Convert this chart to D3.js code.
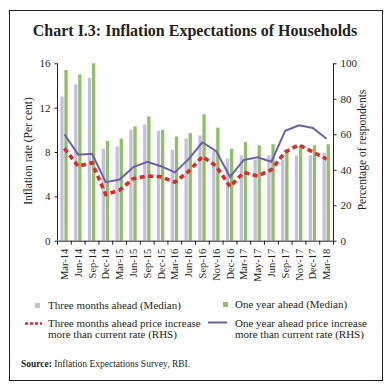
<!DOCTYPE html>
<html>
<head>
<meta charset="utf-8">
<script src="https://cdn.jsdelivr.net/npm/d3@7"></script>
<style>
  body { margin: 0; background: #fff; }
  svg { display: block; font-family: "Liberation Serif", serif; }
</style>
</head>
<body>
<svg id="chart" width="391" height="390"></svg>
<script>
// quarters on the x axis
var periods = ["Mar-14", "Jun-14", "Sep-14", "Dec-14", "Mar-15", "Jun-15", "Sep-15", "Dec-15",
  "Mar-16", "Jun-16", "Sep-16", "Nov-16", "Dec-16", "Mar-17", "May-17", "Jun-17",
  "Sep-17", "Nov-17", "Dec-17", "Mar-18"];

// median expectations, per cent (LHS)
var threeMonthMedian = [13.0, 14.1, 14.7, 8.3, 8.5, 10.0, 10.5, 9.9, 8.2, 9.2, 9.5, 8.1, 7.4, 7.7, 7.3, 7.7, 7.3, 7.7, 7.7, 7.9];
var oneYearMedian = [15.4, 15.0, 16.0, 9.0, 9.2, 10.3, 11.2, 10.0, 9.4, 9.7, 11.4, 10.2, 8.3, 8.9, 8.6, 8.7, 8.2, 8.6, 8.6, 8.7];

// share of respondents expecting higher prices, per cent (RHS)
var threeMonthHigher = [52, 42, 44, 26, 28.5, 35, 36.5, 36, 33, 39, 47.5, 42, 30.5, 38.5, 36.5, 40, 50, 54, 50, 46];
var oneYearHigher = [60, 48.5, 49, 33, 34.5, 41.5, 44.5, 42, 38.5, 46, 55.5, 50.5, 36, 45.5, 47, 44.5, 62, 65, 63.5, 57.5];

var leftTicks = [0, 4, 8, 12, 16];
var rightTicks = [0, 20, 40, 60, 80, 100];

var svg = d3.select("#chart");
var ink = "#231f20";

// frame
svg.append("rect").attr("x", 9.5).attr("y", 10.5).attr("width", 373).attr("height", 370)
  .attr("fill", "none").attr("stroke", ink).attr("stroke-width", 1);

svg.append("text").attr("x", 195).attr("y", 36).attr("text-anchor", "middle")
  .attr("font-size", 16).attr("font-weight", "bold").attr("fill", ink)
  .text("Chart I.3: Inflation Expectations of Households");

var plotLeft = 57.5, plotRight = 333.5, plotTop = 63.3, plotBottom = 240.7;

var x = d3.scaleBand().domain(periods).range([plotLeft, plotRight]);
var yL = d3.scaleLinear().domain([0, 16]).range([plotBottom, plotTop]);
var yR = d3.scaleLinear().domain([0, 100]).range([plotBottom, plotTop]);

var bw = x.bandwidth();
var barW = 3.3;

svg.append("g").selectAll("rect").data(periods).join("rect")
  .attr("x", d => x(d) + 2.8)
  .attr("y", (d, i) => yL(threeMonthMedian[i]))
  .attr("width", barW)
  .attr("height", (d, i) => plotBottom - yL(threeMonthMedian[i]))
  .attr("fill", "#c5bfdd");

svg.append("g").selectAll("rect").data(periods).join("rect")
  .attr("x", d => x(d) + 6.9)
  .attr("y", (d, i) => yL(oneYearMedian[i]))
  .attr("width", barW)
  .attr("height", (d, i) => plotBottom - yL(oneYearMedian[i]))
  .attr("fill", "#8dc264");

var cx = d => x(d) + bw / 2;

var lineR = d3.line().x((d, i) => cx(periods[i])).y(d => yR(d));
svg.append("path").datum(oneYearHigher).attr("d", lineR)
  .attr("fill", "none").attr("stroke", "#6e5fae").attr("stroke-width", 2);

svg.append("path").datum(threeMonthHigher).attr("d", lineR)
  .attr("fill", "none").attr("stroke", "#e3262a").attr("stroke-width", 3.6)
  .attr("stroke-dasharray", "5,3.5");

// axes
var axL = svg.append("g").attr("transform", "translate(" + plotLeft + ",0)")
  .call(d3.axisLeft(yL).tickValues(leftTicks).tickSize(3).tickPadding(4));
var axR = svg.append("g").attr("transform", "translate(" + plotRight + ",0)")
  .call(d3.axisRight(yR).tickValues(rightTicks).tickSize(3).tickPadding(4));
var axB = svg.append("g").attr("transform", "translate(0," + plotBottom + ")")
  .call(d3.axisBottom(x).tickSize(0).tickPadding(0));

[axL, axR, axB].forEach(function (g) {
  g.select(".domain").attr("stroke", ink);
  g.selectAll("line").attr("stroke", ink);
  g.selectAll("text").attr("fill", ink).attr("font-family", "Liberation Serif, serif").attr("font-size", 11);
});
axL.select(".domain").attr("d", "M0," + plotTop + "V" + plotBottom);
axR.select(".domain").attr("d", "M0," + plotTop + "V" + plotBottom);

// band boundary ticks on x axis
svg.append("g").selectAll("line").data(periods.concat(["end"])).join("line")
  .attr("x1", (d, i) => plotLeft + i * bw).attr("x2", (d, i) => plotLeft + i * bw)
  .attr("y1", plotBottom).attr("y2", plotBottom + 4).attr("stroke", ink);

axB.selectAll("text")
  .attr("font-size", 10.5)
  .attr("text-anchor", "end")
  .attr("dy", "0.35em")
  .attr("transform", "translate(0,8) rotate(-90)")
  .attr("x", 0).attr("y", 0);

svg.append("text").attr("transform", "translate(32,151) rotate(-90)")
  .attr("text-anchor", "middle").attr("font-size", 11.5).attr("fill", ink)
  .text("Inflation rate (Per cent)");
svg.append("text").attr("transform", "translate(366,150) rotate(-90)")
  .attr("text-anchor", "middle").attr("font-size", 11.5).attr("fill", ink)
  .text("Percentage of respondents");

// legend
var lg = svg.append("g").attr("font-size", 11).attr("fill", ink);
lg.append("rect").attr("x", 35).attr("y", 303).attr("width", 5).attr("height", 5).attr("fill", "#c5bfdd");
lg.append("text").attr("x", 48).attr("y", 308.5).text("Three months ahead (Median)");
lg.append("rect").attr("x", 223).attr("y", 302).attr("width", 5).attr("height", 5).attr("fill", "#8dc264");
lg.append("text").attr("x", 235).attr("y", 308).text("One year ahead (Median)");

lg.append("line").attr("x1", 25).attr("x2", 42).attr("y1", 323.5).attr("y2", 323.5)
  .attr("stroke", "#e3262a").attr("stroke-width", 2.5).attr("stroke-dasharray", "3,2");
lg.append("text").attr("x", 48).attr("y", 326.5).text("Three months ahead price increase");
lg.append("text").attr("x", 48).attr("y", 337.5).text("more than current rate (RHS)");

lg.append("line").attr("x1", 208).attr("x2", 227).attr("y1", 322.5).attr("y2", 322.5)
  .attr("stroke", "#6e5fae").attr("stroke-width", 2);
lg.append("text").attr("x", 235).attr("y", 326.5).text("One year ahead price increase");
lg.append("text").attr("x", 235).attr("y", 337.5).text("more than current rate (RHS)");

var src = svg.append("text").attr("x", 21).attr("y", 367).attr("font-size", 9.5).attr("fill", ink);
src.append("tspan").attr("font-weight", "bold").text("Source:");
src.append("tspan").text(" Inflation Expectations Survey, RBI.");
</script>
</body>
</html>
